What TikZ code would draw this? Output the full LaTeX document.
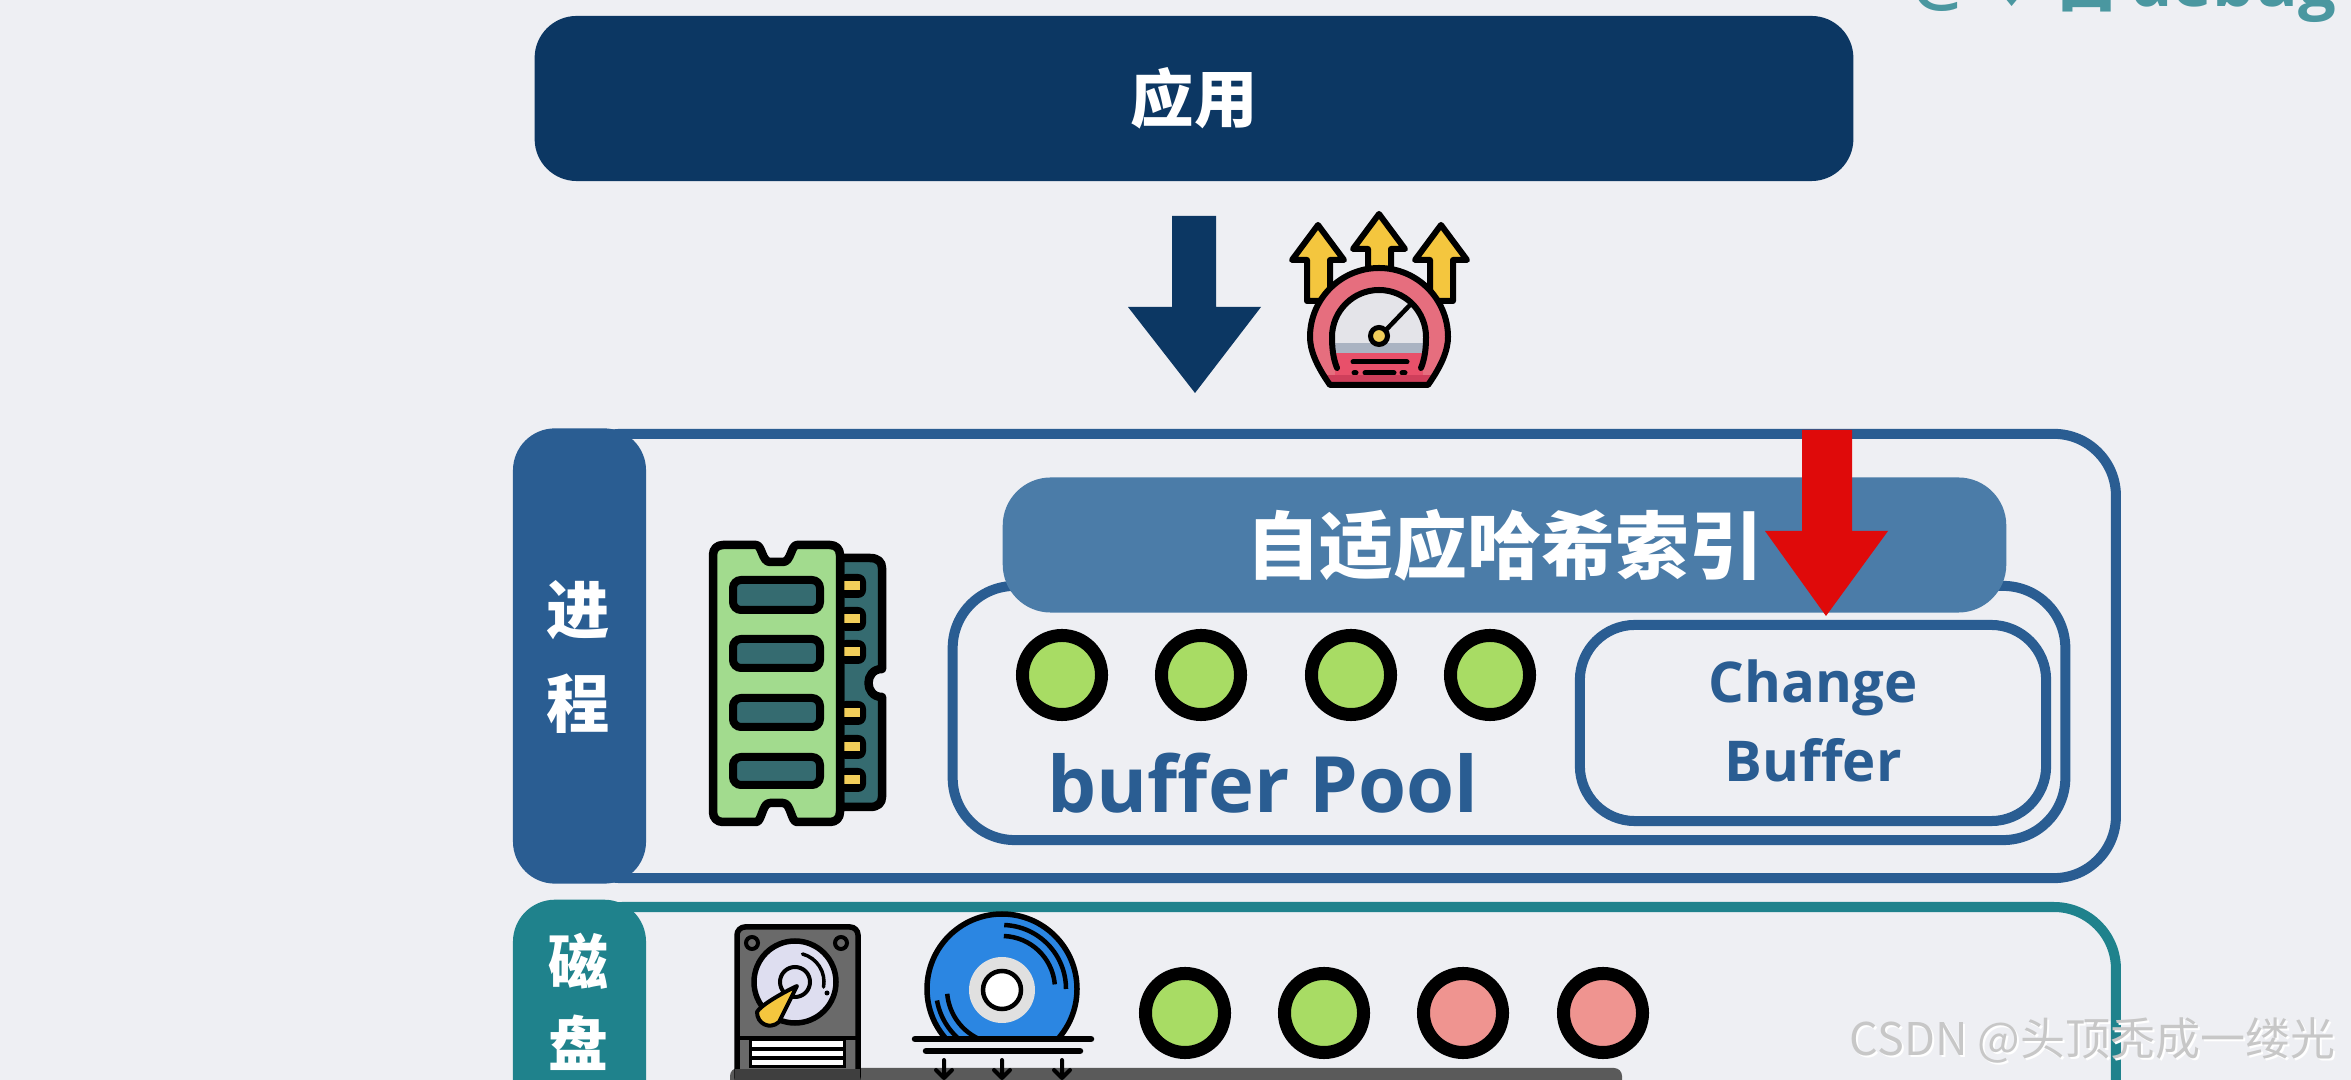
\documentclass[tikz,border=0pt]{standalone}
\usepackage{fontspec}
\setmainfont{Open Sans}
\newfontfamily\cjk{Noto Sans CJK SC}
\newfontfamily\sym{DejaVu Sans}
\definecolor{bgc}{HTML}{EEEFF3}
\definecolor{navy}{HTML}{0C3763}
\definecolor{procblue}{HTML}{2A5D92}
\definecolor{hashblue}{HTML}{4B7CA8}
\definecolor{teal1}{HTML}{1F828C}
\definecolor{teal2}{HTML}{4A97A0}
\definecolor{ledg}{HTML}{A8DC64}
\definecolor{ledr}{HTML}{EF9490}
\definecolor{redarrow}{HTML}{DF0A0A}
\definecolor{ramg}{HTML}{A2DB8E}
\definecolor{ramd}{HTML}{356B70}
\definecolor{gold}{HTML}{F2CE5A}
\definecolor{amber}{HTML}{F4C63E}
\definecolor{pinkc}{HTML}{E66E7E}
\definecolor{redc}{HTML}{E8506A}
\definecolor{redd}{HTML}{CF3F5B}
\definecolor{dialc}{HTML}{E4E4E9}
\definecolor{dialb}{HTML}{AAB3C2}
\definecolor{hddg}{HTML}{6A6A6A}
\definecolor{platter}{HTML}{DEDEF0}
\definecolor{discb}{HTML}{2B86E2}
\tikzset{
  frameline/.style={draw,line width=0.1cm,rounded corners=0.62cm,fill=none},
  tabbox/.style={rounded corners=0.42cm,inner sep=0pt,text=white,align=center},
  led/.style={circle,draw=black,line width=0.13cm,inner sep=0pt,minimum size=0.79cm},
  ink/.style={draw=black,line width=0.06cm,line join=round,line cap=round},
  thick ink/.style={draw=black,line width=0.085cm,line join=round,line cap=round},
}
\begin{document}
\begin{tikzpicture}[x=0.01cm,y=-0.01cm]
\useasboundingbox (0,0) rectangle (2351,1080);
\clip (0,0) rectangle (2351,1080);
\fill[bgc] (0,0) rectangle (2351,1080);

% cut-off text at the top
\node[anchor=base east,text=teal2,font=\bfseries\fontsize{19}{19}\selectfont,inner sep=0pt] (brand) at (2337,7) {debug};
\node[anchor=base,text=teal2,font=\cjk\bfseries\fontsize{19}{19}\selectfont,inner sep=0pt] (brandb) at (2087,7) {日};
\node[anchor=base,text=teal2,font=\sym\fontsize{15}{15}\selectfont,inner sep=0pt] (brandh) at (2012,7) {♥};
\node[anchor=base,text=teal2,font=\bfseries\fontsize{19}{19}\selectfont,inner sep=0pt] (branda) at (1942,7) {@};

% application bar
\node[fill=navy,rounded corners=0.42cm,minimum width=13.18cm,minimum height=1.65cm,inner sep=0pt,text=white,font=\cjk\bfseries\fontsize{18}{18}\selectfont] (app) at (1194,98.5) {应用};

% blue arrow
\fill[navy] (1172,216) -- (1216,216) -- (1216,307) -- (1261,307) -- (1195,393) -- (1128,307) -- (1172,307) -- cycle;

% gauge icon: rising arrows
\foreach \dx/\dy in {-61/11,0/0,62/11}{
  \begin{scope}[shift={(\dx,\dy)}]
    \path[fill=amber,ink] (1379,214) -- (1405,249) -- (1391,249) -- (1391,290) -- (1368,290) -- (1368,249) -- (1353,249) -- cycle;
  \end{scope}
}
% gauge icon: dome
\path[fill=pinkc,draw=none] (1330,385) .. controls (1316,365) and (1310,350) .. (1310,337) arc[start angle=180,end angle=360,radius=69] .. controls (1448,350) and (1442,365) .. (1428,385) -- cycle;
\begin{scope}
  \clip (1330,385) .. controls (1316,365) and (1310,350) .. (1310,337) arc[start angle=180,end angle=360,radius=69] .. controls (1448,350) and (1442,365) .. (1428,385) -- cycle;
  \fill[redc] (1335,353) rectangle (1423,375);
  \fill[redd] (1300,375) rectangle (1460,390);
\end{scope}
\path[fill=dialc] (1334,353) -- (1334,337) arc[start angle=180,end angle=360,radius=45] -- (1424,353) -- cycle;
\fill[dialb] (1334,343) rectangle (1424,353);
\path[ink] (1330,385) .. controls (1316,365) and (1310,350) .. (1310,337) arc[start angle=180,end angle=360,radius=69] .. controls (1448,350) and (1442,365) .. (1428,385) -- cycle;
\path[ink] (1337,368) .. controls (1333,358) and (1332,348) .. (1332,337) arc[start angle=180,end angle=360,radius=47] .. controls (1426,348) and (1425,358) .. (1421,368);
\path[ink,line width=0.05cm] (1353,362) -- (1407,362);
\path[ink,line width=0.05cm] (1354,373) -- (1356,373) (1365,373) -- (1394,373) (1402,373) -- (1405,373);
\path[ink,line width=0.045cm] (1385,331) -- (1409,306);
\node[circle,draw=black,fill=gold,line width=0.05cm,minimum size=0.17cm,inner sep=0pt] (hub) at (1379,336) {};

% process frame
\node[frameline,draw=procblue,minimum width=15.55cm,minimum height=4.44cm,inner sep=0pt] (procframe) at (1338,656) {};
\node[tabbox,fill=procblue,minimum width=1.33cm,minimum height=4.55cm] (proctab) at (579.5,656) {};
\node[text=white,inner sep=0pt,font=\cjk\bfseries\fontsize{18}{18}\selectfont] (jin) at (578,610) {进};
\node[text=white,inner sep=0pt,font=\cjk\bfseries\fontsize{18}{18}\selectfont] (cheng) at (578,704) {程};

% RAM icon
\path[fill=ramd,thick ink] (840,558) -- (870,558) .. controls (878,558) and (882,562) .. (882,568) -- (882,669) .. controls (864,669) and (864,697) .. (882,697) -- (882,797) .. controls (882,803) and (878,807) .. (870,807) -- (840,807) -- cycle;
\foreach \yy in {586,619,652,713,747,780}{
  \fill[black,rounded corners=0.08cm] (838,\yy-12) rectangle (866,\yy+12);
  \fill[gold] (843,\yy-4.5) rectangle (860,\yy+4.5);
}
\path[fill=ramg,thick ink] (723,545) -- (756,545) .. controls (762,545) and (762,562) .. (770,562) -- (783,562) .. controls (791,562) and (791,545) .. (797,545) -- (830,545) .. controls (836,545) and (840,549) .. (840,555) -- (840,812) .. controls (840,818) and (836,822) .. (830,822) -- (797,822) .. controls (791,822) and (791,803) .. (783,803) -- (770,803) .. controls (762,803) and (762,822) .. (756,822) -- (723,822) .. controls (717,822) and (713,818) .. (713,812) -- (713,555) .. controls (713,549) and (717,545) .. (723,545) -- cycle;
\foreach \ya/\yb in {580/610,639/668,698/727,757/785}{
  \draw[fill=ramd,draw=black,line width=0.08cm,rounded corners=0.08cm] (733,\ya) rectangle (820,\yb);
}

% buffer pool frame, hash bar, change buffer
\node[frameline,draw=procblue,minimum width=11.12cm,minimum height=2.54cm,inner sep=0pt] (poolframe) at (1509,713) {};
\node[fill=hashblue,rounded corners=0.48cm,minimum width=10.03cm,minimum height=1.35cm,inner sep=0pt,text=white,font=\cjk\bfseries\fontsize{21}{21}\selectfont] (hash) at (1504.5,545) {自适应哈希索引};
\node[frameline,draw=procblue,rounded corners=0.55cm,minimum width=4.66cm,minimum height=1.96cm,inner sep=0pt] (changeframe) at (1813,723) {};
\node[text=procblue,inner sep=0pt,font=\bfseries\fontsize{16}{16}\selectfont] (change) at (1813,688) {Change};
\node[text=procblue,inner sep=0pt,font=\bfseries\fontsize{16}{16}\selectfont] (buffer) at (1813,760) {Buffer};
\foreach \xx [count=\i] in {1062,1201,1351,1490}{
  \node[led,fill=ledg] (p\i) at (\xx,675) {};
}
\node[text=procblue,inner sep=0pt,font=\bfseries\fontsize{22.1}{22.1}\selectfont] (poolname) at (1263,783) {buffer Pool};

% red arrow
\fill[redarrow] (1802,430) -- (1852,430) -- (1852,531) -- (1888,531) -- (1826,616) -- (1765,531) -- (1802,531) -- cycle;

% disk frame
\node[frameline,draw=teal1,minimum width=15.55cm,minimum height=3cm,inner sep=0pt,anchor=north] (diskframe) at (1338,902) {};
\node[tabbox,fill=teal1,minimum width=1.33cm,minimum height=3.2cm,anchor=north] (disktab) at (579.5,899) {};
\node[text=white,inner sep=0pt,font=\cjk\bfseries\fontsize{17}{17}\selectfont] (ci) at (578,961) {磁};
\node[text=white,inner sep=0pt,font=\cjk\bfseries\fontsize{17}{17}\selectfont] (pan) at (578,1043) {盘};

% base bar
\fill[hddg!85!black,rounded corners=0.08cm] (730,1068) rectangle (1622,1110);

% hard-disk icon
\draw[fill=hddg,draw=black,line width=0.055cm,rounded corners=0.08cm] (737,927) rectangle (858,1085);
\draw[fill=platter,draw=black,line width=0.055cm] (795,982) circle[radius=41];
\draw[fill=hddg,draw=black,line width=0.04cm] (752,943) circle[radius=6];
\draw[fill=hddg,draw=black,line width=0.04cm] (841,943) circle[radius=6];
\draw[black,line width=0.04cm] (795,982) circle[radius=15];
\draw[black,line width=0.035cm,line cap=round] (795,982) ++(-75:29) arc[start angle=-75,end angle=10,radius=29];
\fill[black] (827,993) circle[radius=2.5];
\path[fill=amber,ink,line width=0.04cm] (797,986) -- (779,1022) .. controls (770,1030) and (757,1024) .. (757,1012) .. controls (760,1006) and (780,994) .. cycle;
\fill[black] (737,1036) rectangle (858,1040);
\draw[fill=white,draw=black,line width=0.03cm] (750,1040) rectangle (844,1067);
\fill[black] (750,1047) rectangle (844,1051);
\fill[black] (750,1056) rectangle (844,1060);
\fill[hddg!60!black] (735,1069) rectangle (860,1085);

% disc icon
\begin{scope}
  \clip (900,900) rectangle (1100,1038);
  \draw[fill=discb,draw=black,line width=0.055cm] (1002,989) circle[radius=75];
  \draw[black,line width=0.045cm] (1002,989) ++(-88:64) arc[start angle=-88,end angle=0,radius=64];
  \draw[black,line width=0.045cm] (1002,989) ++(-88:53) arc[start angle=-88,end angle=-5,radius=53];
  \draw[black,line width=0.045cm] (1002,989) ++(170:66) arc[start angle=170,end angle=112,radius=66];
  \draw[black,line width=0.045cm] (1002,989) ++(175:55) arc[start angle=175,end angle=112,radius=55];
\end{scope}
\draw[fill=black!12,draw=none] (1002,990) circle[radius=33];
\draw[fill=white,draw=black,line width=0.045cm] (1002,990) circle[radius=19];
\path[thick ink,line width=0.065cm] (915,1039) -- (1091,1039);
\path[thick ink,line width=0.065cm] (926,1051) -- (1080,1051);
\foreach \xx in {944,1002,1062}{
  \path[ink,line width=0.04cm] (\xx,1060) -- (\xx,1078) (\xx-8,1070) -- (\xx,1078) -- (\xx+8,1070);
}

% disk LEDs
\node[led,fill=ledg] (d1) at (1185,1013) {};
\node[led,fill=ledg] (d2) at (1324,1013) {};
\node[led,fill=ledr] (d3) at (1463,1013) {};
\node[led,fill=ledr] (d4) at (1603,1013) {};

% watermark
\node[anchor=west,inner sep=0pt,text=white,font=\cjk\fontsize{12.8}{12.8}\selectfont] (wmshadow) at (1851,1042) {CSDN @头顶秃成一缕光};
\node[anchor=west,inner sep=0pt,text=black!22,font=\cjk\fontsize{12.8}{12.8}\selectfont] (wmtext) at (1849,1040) {CSDN @头顶秃成一缕光};
\end{tikzpicture}
\end{document}
